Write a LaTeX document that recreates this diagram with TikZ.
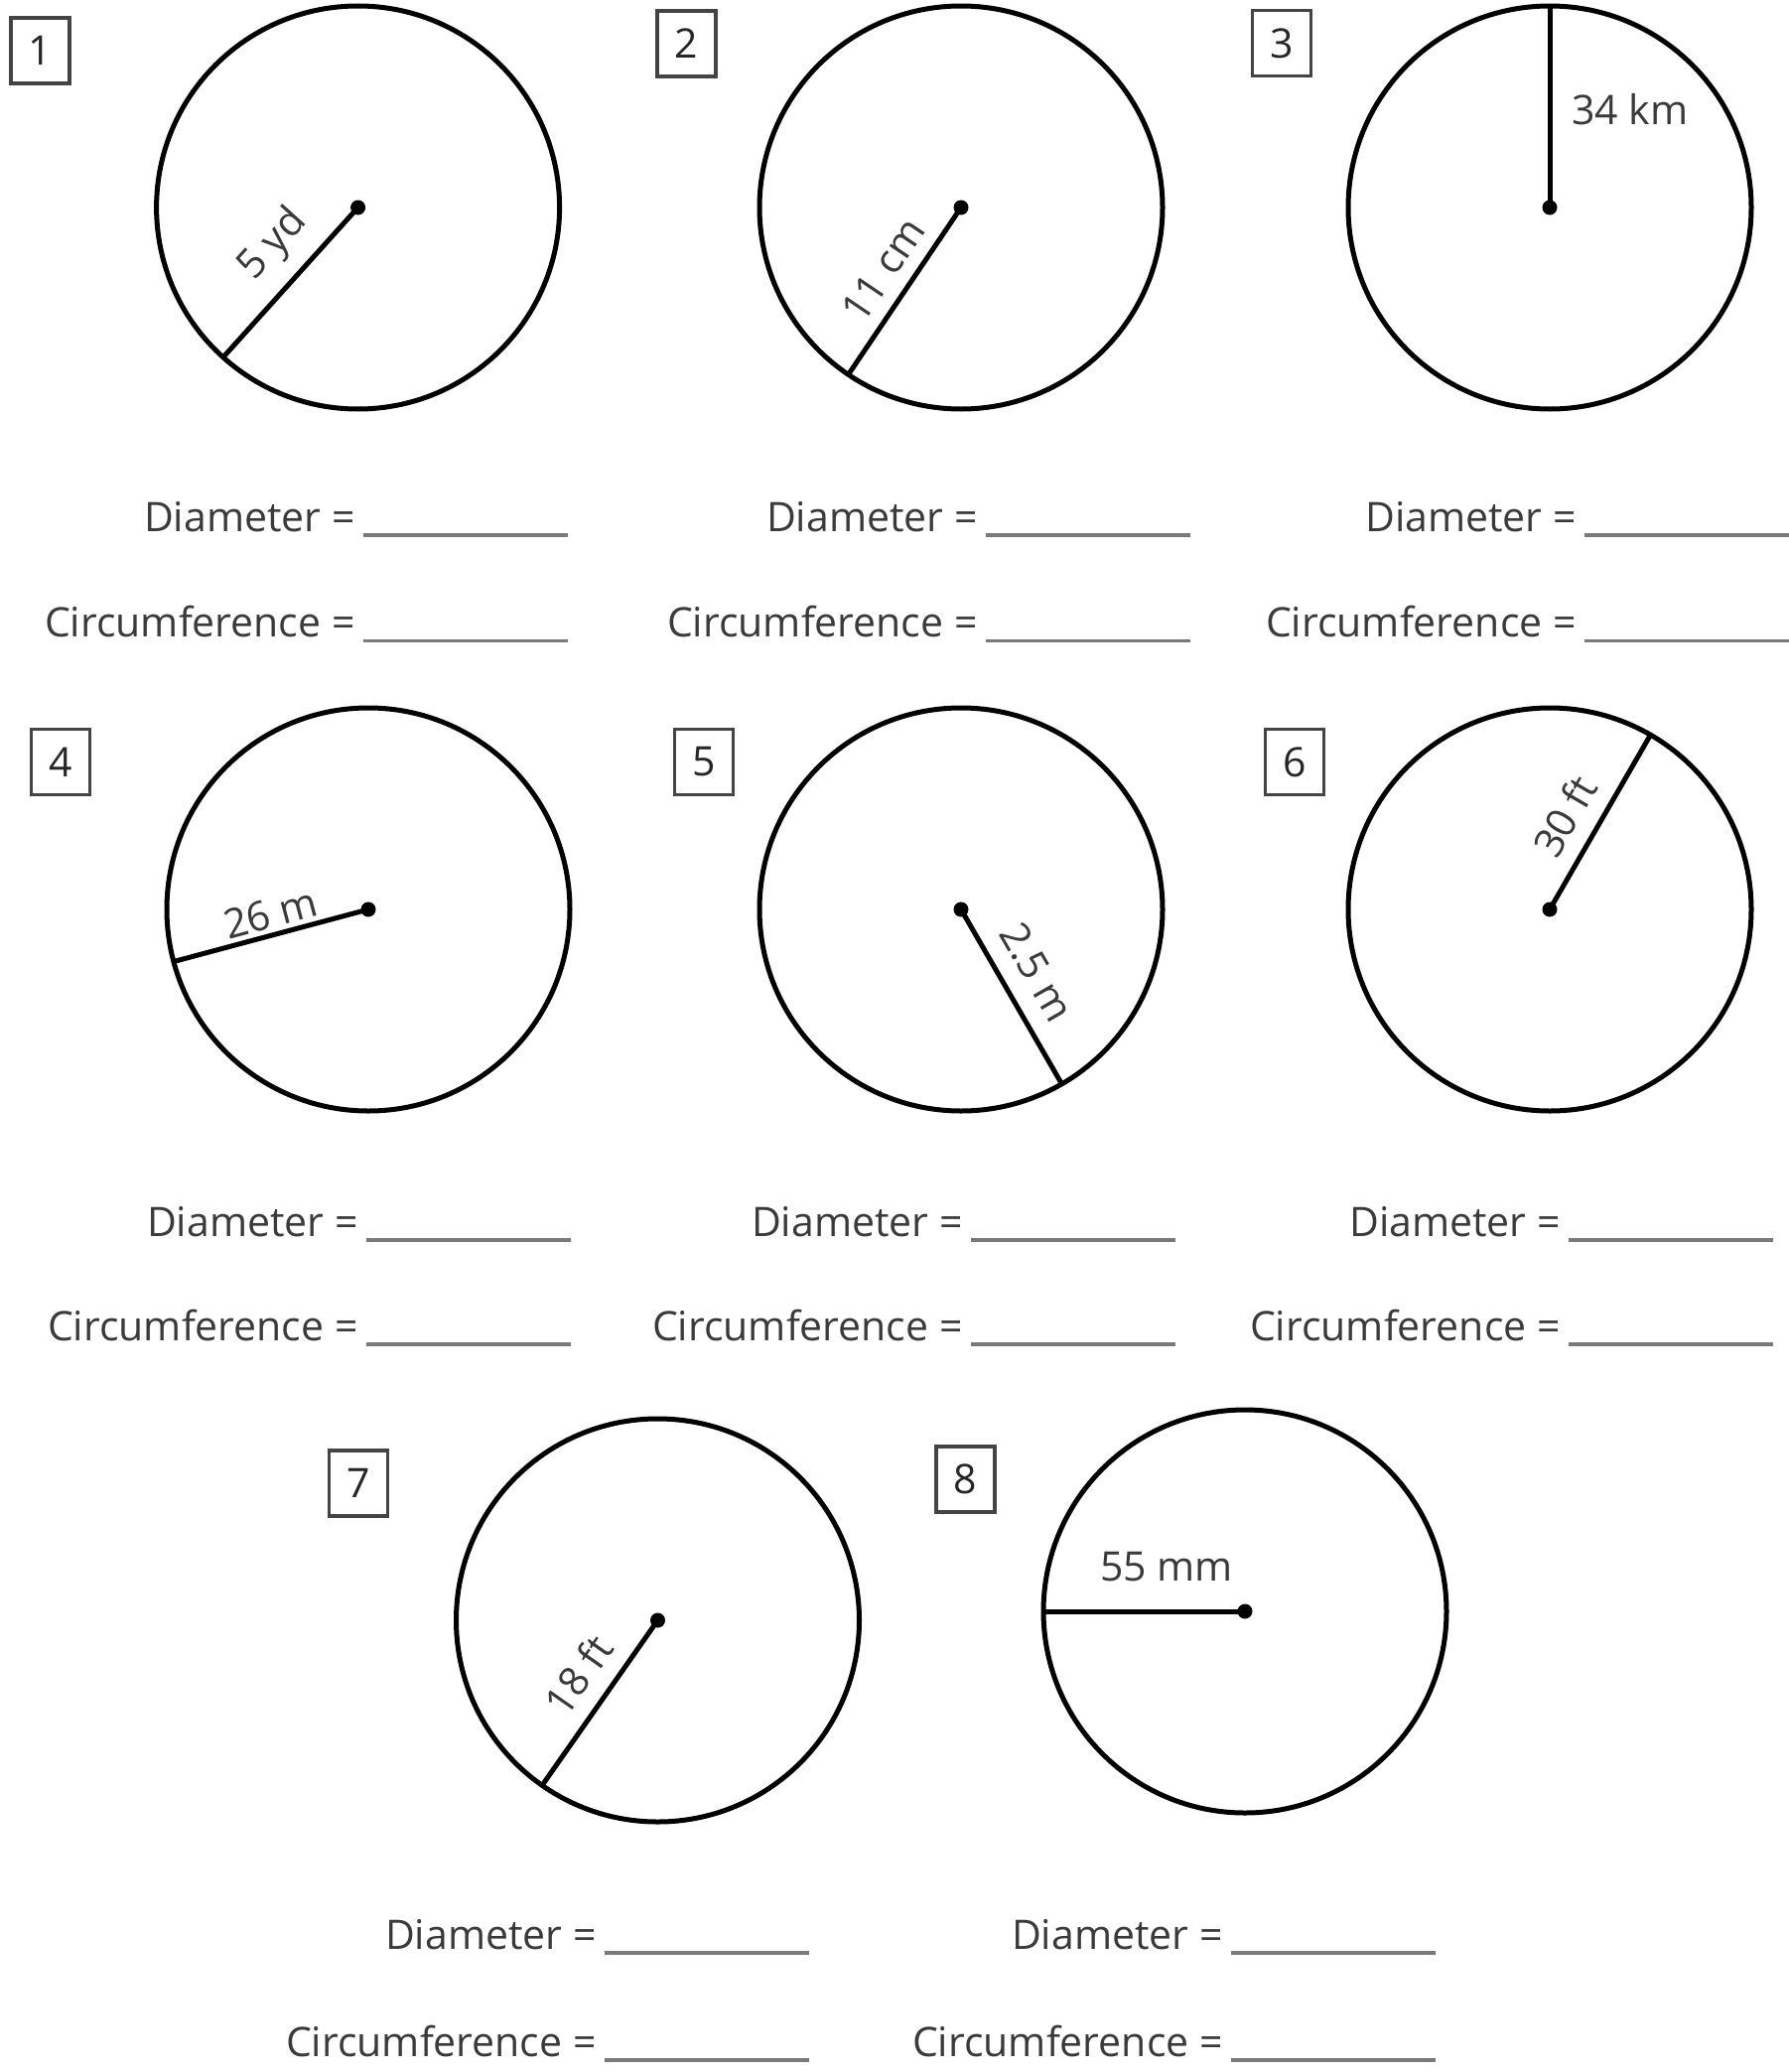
\documentclass[tikz,border=0pt]{standalone}
\usepackage{fontspec}
\setmainfont{Open Sans}
\usetikzlibrary{calc}
\definecolor{txt}{HTML}{3A3A3A}
\definecolor{rulec}{HTML}{7A7A7A}
\definecolor{boxc}{HTML}{444444}
\newcommand{\ansblock}[4]{%
  \node[ans] (dia#1) at (#2,-#3) {Diameter =};
  \node[ans] (cir#1) at (#2,-#4) {Circumference =};
  \draw[blank] ([shift={(8,-4)}]dia#1.base east) -- ++(206,0);
  \draw[blank] ([shift={(8,-4)}]cir#1.base east) -- ++(206,0);
}
\begin{document}
\begin{tikzpicture}[x=0.5pt,y=0.5pt,
  circ/.style={circle,draw=black,line width=2.5pt,minimum size=203pt,inner sep=0pt,outer sep=0pt},
  cdot/.style={circle,fill=black,minimum size=7.5pt,inner sep=0pt},
  rad/.style={line width=2.5pt},
  numbox/.style={draw=boxc,line width=1.6pt,minimum width=29.5pt,minimum height=33pt,inner sep=0pt,text=black!85,font=\fontsize{20.5pt}{24pt}\selectfont},
  lbl/.style={inner sep=0pt,text=txt,font=\fontsize{20.5pt}{24pt}\selectfont},
  ans/.style={inner sep=0pt,text=txt,font=\fontsize{20.5pt}{24pt}\selectfont,anchor=base east},
  blank/.style={draw=rulec,line width=1.6pt}
]
\useasboundingbox (0,0) rectangle (1802,-2087);

% number boxes
\node[numbox] (n1) at (40.5,-51) {1};
\node[numbox] (n2) at (691.5,-44) {2};
\node[numbox] (n3) at (1291,-43.5) {3};
\node[numbox] (n4) at (61,-767.5) {4};
\node[numbox] (n5) at (709,-767.5) {5};
\node[numbox] (n6) at (1304,-767.5) {6};
\node[numbox] (n7) at (361,-1494) {7};
\node[numbox] (n8) at (972.5,-1490) {8};

% circles
\node[circ] (c1) at (360.6,-209) {};
\node[circ] (c2) at (968,-209) {};
\node[circ] (c3) at (1561,-209) {};
\node[circ] (c4) at (371,-916) {};
\node[circ] (c5) at (968,-916) {};
\node[circ] (c6) at (1561,-916) {};
\node[circ] (c7) at (662.5,-1632) {};
\node[circ] (c8) at (1254,-1623) {};

% centre dots
\node[cdot] (o1) at (c1.center) {};
\node[cdot] (o2) at (c2.center) {};
\node[cdot] (o3) at (c3.center) {};
\node[cdot] (o4) at (c4.center) {};
\node[cdot] (o5) at (c5.center) {};
\node[cdot] (o6) at (c6.center) {};
\node[cdot] (o7) at (c7.center) {};
\node[cdot] (o8) at (c8.center) {};

% radii
\draw[rad] (c1.228) -- (o1.center);
\draw[rad] (c2.236) -- (o2.center);
\draw[rad] (c3.90) -- (o3.center);
\draw[rad] (c4.195) -- (o4.center);
\draw[rad] (o5.center) -- (c5.300);
\draw[rad] (o6.center) -- (c6.60);
\draw[rad] (c7.235) -- (o7.center);
\draw[rad] (c8.180) -- (o8.center);

% radius labels
\node[lbl,rotate=48] (l1) at ($(c1.center)+(228:85)+(138:38)$) {5 yd};
\node[lbl,rotate=56] (l2) at ($(c2.center)+(236:96)+(146:30)$) {11 cm};
\node[lbl] (l3) at ($(c3.center)+(81,99)$) {34 km};
\node[lbl,rotate=15] (l4) at ($(c4.center)+(195:96)+(105:22)$) {26 m};
\node[lbl,rotate=-60] (l5) at ($(c5.center)+(300:93)+(30:35)$) {2.5 m};
\node[lbl,rotate=60] (l6) at ($(c6.center)+(60:89)+(150:34)$) {30 ft};
\node[lbl,rotate=55] (l7) at ($(c7.center)+(235:91)+(145:34)$) {18 ft};
\node[lbl] (l8) at ($(c8.center)+(-79,45)$) {55 mm};

% answer lines
\ansblock{1}{358}{535}{641.5}
\ansblock{2}{985}{535}{641.5}
\ansblock{3}{1588}{535}{641.5}
\ansblock{4}{361}{1245}{1350}
\ansblock{5}{970}{1245}{1350}
\ansblock{6}{1572}{1245}{1350}
\ansblock{7}{601}{1963}{2071}
\ansblock{8}{1232}{1963}{2071}
\end{tikzpicture}
\end{document}
